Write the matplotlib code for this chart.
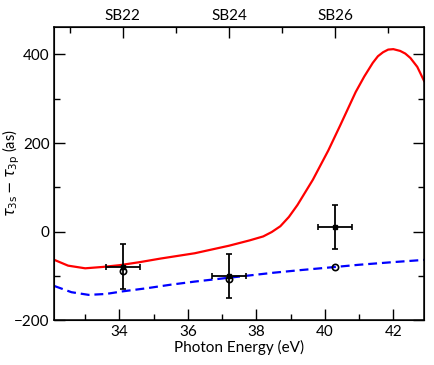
import matplotlib
matplotlib.use('Agg')
import matplotlib.pyplot as plt
from matplotlib.ticker import MultipleLocator

plt.rcParams['font.family'] = ['Lato', 'DejaVu Sans']
plt.rcParams['mathtext.fontset'] = 'dejavusans'

# theory curves
red_e = [32.1, 32.5, 33.0, 33.5, 34.0, 34.6, 35.2, 36.2, 37.2, 37.8, 38.2, 38.45,
         38.7, 38.95, 39.2, 39.65, 40.1, 40.45, 40.9, 41.15, 41.4, 41.55, 41.7,
         41.85, 42.0, 42.2, 42.35, 42.5, 42.7, 42.9]
red_val = [-64, -77, -83, -80, -76, -69, -61, -49, -32, -20, -11, -1,
           12, 33, 60, 117, 183, 240, 315, 350, 381, 396, 405,
           411, 412, 408, 402, 392, 372, 340]

blue_e = [32.1, 32.6, 33.1, 33.6, 34.1, 34.8, 35.5, 36.2, 37.0, 37.7, 38.5,
          39.3, 40.3, 41.0, 42.0, 42.9]
blue_val = [-123, -137, -143, -141, -135, -128, -120, -113, -106, -100, -93,
            -87, -80, -75, -69, -64]

# sidebands
sb_e = [34.1, 37.2, 40.3]
sb_meas = [-79, -101, 10]
sb_yerr = [50, 50, 50]
sb_xerr = [0.5, 0.5, 0.5]
sb_calc = [-90, -108, -79]

sb_orders = [22, 24, 26]
sb_labels = ['SB22', 'SB24', 'SB26']
odd_orders = [21, 23, 25, 27]
photon = 1.55

fig = plt.figure(figsize=(4.35, 3.65), dpi=100)
ax = fig.add_axes([0.125, 0.123, 0.85, 0.803])

ax.plot(red_e, red_val, color='red', lw=1.6, zorder=2)
ax.plot(blue_e, blue_val, color='blue', lw=1.6, dashes=(4, 2.2), zorder=2)
ax.errorbar(sb_e, sb_meas, yerr=sb_yerr, xerr=sb_xerr, fmt='s', color='black',
            ms=3.5, elinewidth=1.3, capsize=2.5, capthick=1.2, zorder=3)
ax.plot(sb_e, sb_calc, 'o', mfc='none', mec='black', ms=4.5, mew=1.2, zorder=3)

ax.set_xlim(32.1, 42.9)
ax.set_ylim(-200, 462)
ax.xaxis.set_major_locator(MultipleLocator(2))
ax.xaxis.set_minor_locator(MultipleLocator(1))
ax.yaxis.set_major_locator(MultipleLocator(200))
ax.yaxis.set_minor_locator(MultipleLocator(100))
ax.tick_params(which='both', direction='in', right=True, top=False,
               labelsize=11, width=1)
ax.tick_params(which='major', length=8, pad=3.5)
ax.tick_params(which='minor', length=4.3)
for s in ax.spines.values():
    s.set_linewidth(1.1)

ax.set_xlabel('Photon Energy (eV)', fontsize=11, labelpad=1)
ax.set_ylabel(r'$\tau_{\rm 3s} - \tau_{\rm 3p}$ (as)', fontsize=10.5)
ax.yaxis.set_label_coords(-0.088, 0.5)

top = ax.twiny()
top.set_xlim(ax.get_xlim())
top.set_xticks([n * photon for n in sb_orders])
top.set_xticklabels(sb_labels)
top.set_xticks([n * photon for n in odd_orders], minor=True)
top.tick_params(which='both', direction='in', labelsize=11, width=1, pad=3)
top.tick_params(which='major', length=8)
top.tick_params(which='minor', length=4.3)

fig.savefig('out.png', dpi=100)
